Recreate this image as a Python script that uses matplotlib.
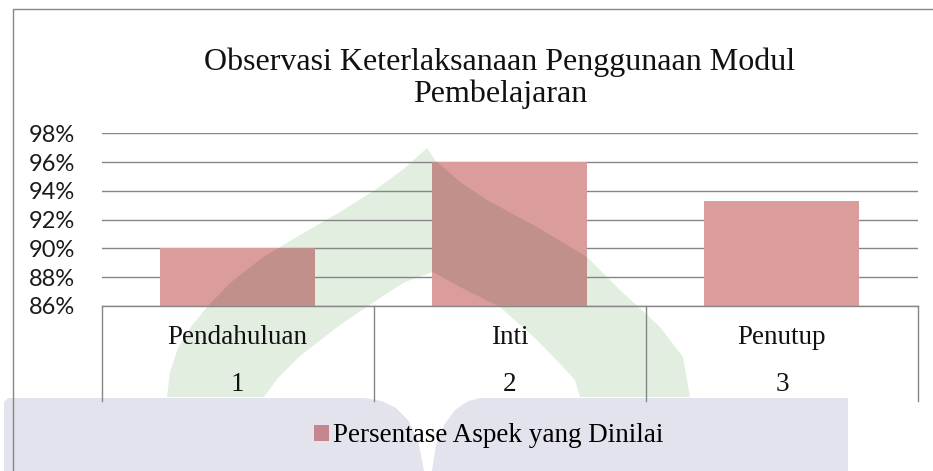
import matplotlib
matplotlib.use("Agg")
import matplotlib.pyplot as plt
from matplotlib.patches import Polygon, Patch, Rectangle
from matplotlib.lines import Line2D

# ---- data ----
categories = ["Pendahuluan", "Inti", "Penutup"]
numbers = ["1", "2", "3"]
values = [0.90, 0.96, 0.9333]
series_name = "Persentase Aspek yang Dinilai"
yticks = [0.86, 0.88, 0.90, 0.92, 0.94, 0.96, 0.98]
ytick_labels = ["86%", "88%", "90%", "92%", "94%", "96%", "98%"]
title = "Observasi Keterlaksanaan Penggunaan Modul\nPembelajaran"

W, H = 933, 471
fig = plt.figure(figsize=(W / 100, H / 100), dpi=100)
fig.patch.set_facecolor("white")

def fp(pts):
    return [(x / W, 1 - y / H) for x, y in pts]

# ---- watermark (background decoration) ----
green_pts = [(167, 397), (170, 372), (178, 348), (190, 328), (207, 307), (230, 283),
             (262, 258), (300, 235), (340, 212), (375, 190), (405, 168), (427, 148),
             (435, 160), (460, 182), (487, 200), (537, 227), (587, 257), (620, 290),
             (660, 327), (683, 357), (690, 397),
             (580, 397), (575, 380), (563, 367), (537, 340), (500, 307), (460, 287),
             (433, 272), (405, 282), (380, 298), (340, 325), (300, 356), (278, 378),
             (264, 397)]
fig.patches.append(Polygon(fp(green_pts), closed=True, transform=fig.transFigure,
                           facecolor="#E2EFE0", edgecolor="none", zorder=-5, figure=fig))
band_pts = [(4, 471), (4, 402), (8, 398), (365, 398), (382, 401), (396, 408), (408, 420),
            (418, 440), (424, 471), (432, 471), (436, 445), (444, 425), (455, 410),
            (468, 401), (480, 398), (848, 398), (848, 471)]
fig.patches.append(Polygon(fp(band_pts), closed=True, transform=fig.transFigure,
                           facecolor="#E3E3EE", edgecolor="none", zorder=-4, figure=fig))

# chart border (left and top visible)
fig.add_artist(Line2D([13 / W, 13 / W, 1.0], [0.0, 1 - 9 / H, 1 - 9 / H],
                      transform=fig.transFigure, color="#868686", lw=1.0))

# ---- axes ----
left, right = 101.7 / W, 918 / W
bottom, top = 1 - 306 / H, 1 - 133.3 / H
ax = fig.add_axes([left, bottom, right - left, top - bottom])
ax.patch.set_visible(False)

x = list(range(len(categories)))
bars = ax.bar(x, values, width=0.57, color="#DA9D9C", zorder=2)

ax.set_xlim(-0.5, len(categories) - 0.5)
ax.set_ylim(yticks[0], yticks[-1])

# watermark overlap darkening inside the visible part of each bar
ylo = yticks[0]
for rect in bars:
    clip = Rectangle((rect.get_x(), ylo), rect.get_width(),
                     rect.get_y() + rect.get_height() - ylo, transform=ax.transData)
    pg = Polygon(fp(green_pts), closed=True, transform=fig.transFigure,
                 facecolor="#C2908A", edgecolor="none", zorder=3)
    ax.add_artist(pg)
    pg.set_clip_path(clip)

ax.set_yticks(yticks)
ax.set_yticklabels(ytick_labels, fontfamily="Lato", fontsize=17, color="#1a1a1a")
ax.tick_params(axis="y", length=0, pad=19)
ax.set_xticks([])
ax.yaxis.grid(True, color="#868686", lw=1.0, zorder=1)
ax.set_axisbelow(True)
for s in ["left", "right", "top"]:
    ax.spines[s].set_visible(False)
ax.spines["bottom"].set_color("#868686")
ax.spines["bottom"].set_linewidth(1.0)

# category table below the axis
tr = ax.get_xaxis_transform()
for b in [i - 0.5 for i in range(len(categories) + 1)]:
    ax.add_artist(Line2D([b, b], [0, -0.55], transform=tr, color="#868686",
                         lw=1.0, clip_on=False))
for i, (c, n) in enumerate(zip(categories, numbers)):
    ax.text(i, -0.185, c, transform=tr, ha="center", va="center",
            fontfamily="Liberation Serif", fontsize=19.5, color="#111111", clip_on=False)
    ax.text(i, -0.457, n, transform=tr, ha="center", va="center",
            fontfamily="Liberation Serif", fontsize=19.5, color="#111111", clip_on=False)

# title
fig.text(500 / W, 1 - 78 / H, title, ha="center", va="center", linespacing=1.12,
         fontfamily="Liberation Serif", fontsize=23, color="#111111")

# legend
fig.legend(handles=[Patch(facecolor="#C5878C", edgecolor="none", label=series_name)],
           loc="center", bbox_to_anchor=(488.5 / W, 1 - 436 / H), frameon=False,
           prop={"family": "Liberation Serif", "size": 19.5},
           handlelength=0.55, handleheight=0.55, handletextpad=0.15)

fig.savefig("out.png", dpi=100)
